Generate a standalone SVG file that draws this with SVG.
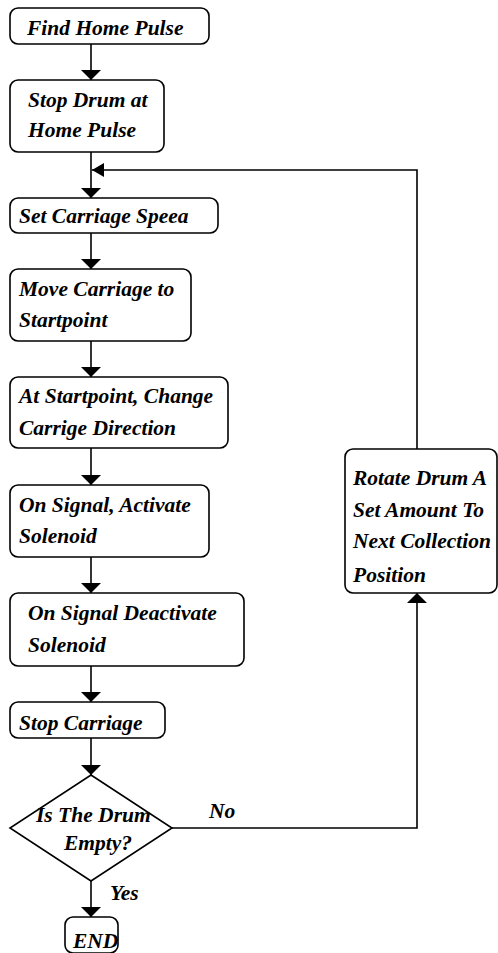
<svg xmlns="http://www.w3.org/2000/svg" width="498" height="953" viewBox="0 0 498 953">
  <style>
    .box { fill: #fff; stroke: #000; stroke-width: 1.6; }
    .lbl { font-family: "Liberation Serif", "Times New Roman", serif; font-weight: bold; font-style: italic; font-size: 21.5px; fill: #000; }
    .con { fill: none; stroke: #000; stroke-width: 1.6; }
  </style>
  <defs>
    <marker id="arrow" viewBox="0 0 10 20" refX="10" refY="10" markerWidth="10" markerHeight="20" markerUnits="userSpaceOnUse" orient="auto">
      <path d="M0,0 L10,10 L0,20 Z" fill="#000"/>
    </marker>
    <marker id="arrowSmall" viewBox="0 0 12 14" refX="12" refY="7" markerWidth="12" markerHeight="14" markerUnits="userSpaceOnUse" orient="auto">
      <path d="M0,0 L12,7 L0,14 Z" fill="#000"/>
    </marker>
  </defs>

  <!-- connectors -->
  <g id="connectors">
    <line class="con" x1="91" y1="44" x2="91" y2="80" marker-end="url(#arrow)"/>
    <line class="con" x1="91" y1="152" x2="91" y2="198" marker-end="url(#arrow)"/>
    <path class="con" d="M417,449 V170 H92" marker-end="url(#arrowSmall)"/>
    <line class="con" x1="91" y1="233" x2="91" y2="269" marker-end="url(#arrow)"/>
    <line class="con" x1="91" y1="341" x2="91" y2="377" marker-end="url(#arrow)"/>
    <line class="con" x1="91" y1="448" x2="91" y2="485" marker-end="url(#arrow)"/>
    <line class="con" x1="91" y1="557" x2="91" y2="593" marker-end="url(#arrow)"/>
    <line class="con" x1="91" y1="666" x2="91" y2="702" marker-end="url(#arrow)"/>
    <line class="con" x1="91" y1="738" x2="91" y2="775" marker-end="url(#arrow)"/>
    <line class="con" x1="91" y1="881" x2="91" y2="917" marker-end="url(#arrow)"/>
    <path class="con" d="M172,828 H417 V593" marker-end="url(#arrow)"/>
    <text class="lbl" x="209" y="818">No</text>
    <text class="lbl" x="110" y="900">Yes</text>
  </g>

  <g id="find-home">
    <rect class="box" x="10" y="8" width="199" height="36" rx="8"/>
    <text class="lbl" x="27" y="35">Find Home Pulse</text>
  </g>

  <g id="stop-drum">
    <rect class="box" x="10" y="80" width="154" height="72" rx="8"/>
    <text class="lbl" x="28" y="107">Stop Drum at</text>
    <text class="lbl" x="28" y="137">Home Pulse</text>
  </g>

  <g id="set-speed">
    <rect class="box" x="10" y="198" width="208" height="35" rx="8"/>
    <text class="lbl" x="19" y="223">Set Carriage Speea</text>
  </g>

  <g id="move-carriage">
    <rect class="box" x="10" y="269" width="181" height="72" rx="8"/>
    <text class="lbl" x="19" y="296">Move Carriage to</text>
    <text class="lbl" x="19" y="327">Startpoint</text>
  </g>

  <g id="change-direction">
    <rect class="box" x="10" y="377" width="218" height="71" rx="8"/>
    <text class="lbl" x="19" y="403">At Startpoint, Change</text>
    <text class="lbl" x="19" y="435">Carrige Direction</text>
  </g>

  <g id="activate">
    <rect class="box" x="10" y="485" width="199" height="72" rx="8"/>
    <text class="lbl" x="19" y="512">On Signal, Activate</text>
    <text class="lbl" x="19" y="543">Solenoid</text>
  </g>

  <g id="deactivate">
    <rect class="box" x="10" y="593" width="234" height="73" rx="8"/>
    <text class="lbl" x="28" y="620">On Signal Deactivate</text>
    <text class="lbl" x="28" y="652">Solenoid</text>
  </g>

  <g id="stop-carriage">
    <rect class="box" x="10" y="702" width="155" height="36" rx="8"/>
    <text class="lbl" x="19" y="730">Stop Carriage</text>
  </g>

  <g id="drum-empty">
    <polygon class="box" points="91,775 172,828 91,881 10,828"/>
    <text class="lbl" x="36" y="822">Is The Drum</text>
    <text class="lbl" x="64" y="850">Empty?</text>
  </g>

  <g id="end">
    <rect class="box" x="65" y="917" width="53" height="36" rx="8"/>
    <text class="lbl" x="73" y="948">END</text>
  </g>

  <g id="rotate-drum">
    <rect class="box" x="345" y="449" width="152" height="144" rx="8"/>
    <text class="lbl" x="353" y="485">Rotate Drum A</text>
    <text class="lbl" x="353" y="517">Set Amount To</text>
    <text class="lbl" x="353" y="548">Next Collection</text>
    <text class="lbl" x="353" y="582">Position</text>
  </g>
</svg>
